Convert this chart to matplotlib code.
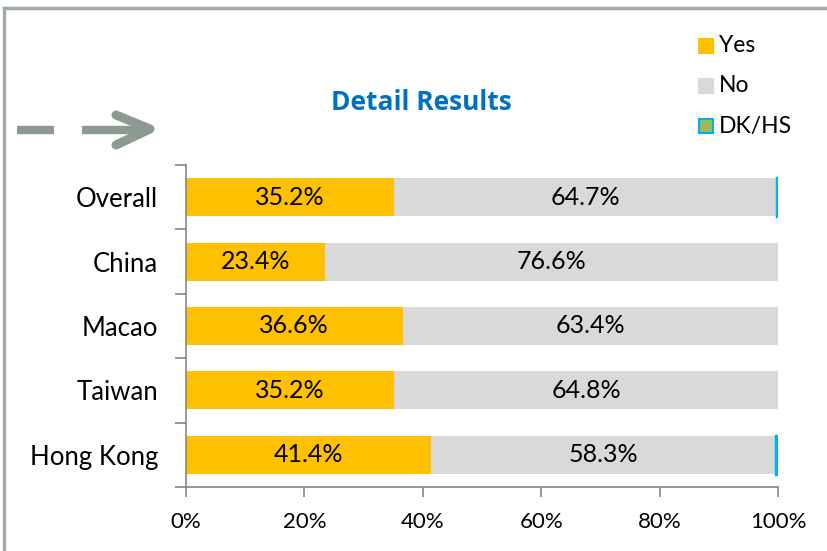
import matplotlib
matplotlib.use("Agg")
import matplotlib.pyplot as plt
from matplotlib.patches import Rectangle
from matplotlib.lines import Line2D
import numpy as np

plt.rcParams['font.family'] = ['Lato', 'DejaVu Sans']

categories = ["Overall", "China", "Macao", "Taiwan", "Hong Kong"]
yes = [35.2, 23.4, 36.6, 35.2, 41.4]
no = [64.7, 76.6, 63.4, 64.8, 58.3]
dk = [0.1, 0.0, 0.0, 0.0, 0.3]
series_names = ["Yes", "No", "DK/HS"]
xticks = [0, 20, 40, 60, 80, 100]

c_yes = "#FFC000"
c_no = "#D9D9D9"
c_dk = "#9BBB59"
c_dk_edge = "#00B0F0"
axis_col = "#868686"

fig = plt.figure(figsize=(8.27, 5.51), dpi=100)
W, H = 827, 551
ax = fig.add_axes([186 / W, 1 - 487 / H, (778 - 186) / W, (487 - 165) / H])

y = np.arange(len(categories))
h = 0.59
ax.barh(y, yes, height=h, color=c_yes, label=series_names[0])
ax.barh(y, no, left=yes, height=h, color=c_no, label=series_names[1])
left2 = np.array(yes) + np.array(no)
for yi, l, d in zip(y, left2, dk):
    if d > 0:
        ax.barh(yi, d, left=l, height=h, color=c_dk, edgecolor=c_dk_edge, linewidth=2.5)

for yi, a, b in zip(y, yes, no):
    ax.text(a / 2, yi, f"{a:.1f}%", ha="center", va="center", fontsize=18, color="black")
    ax.text(a + b / 2, yi, f"{b:.1f}%", ha="center", va="center", fontsize=18, color="black")

ax.set_xlim(0, 100)
ax.set_ylim(len(categories) - 0.5, -0.5)
ax.set_xticks(xticks)
ax.set_xticklabels([f"{t}%" for t in xticks], fontsize=16)
ax.set_yticks(y)
ax.set_yticklabels(categories, fontsize=18.5)
ax.set_yticks(np.arange(-0.5, len(categories), 1), minor=True)
ax.tick_params(axis="y", which="major", length=0, pad=20)
ax.tick_params(axis="y", which="minor", length=8, color=axis_col, width=1.2)
ax.tick_params(axis="x", length=7, color=axis_col, width=1.2, pad=11)
for s in ["top", "right"]:
    ax.spines[s].set_visible(False)
for s in ["left", "bottom"]:
    ax.spines[s].set_color(axis_col)
    ax.spines[s].set_linewidth(1.2)

# title
fig.text(421 / W, 1 - 103 / H, "Detail Results", ha="center", va="center",
         fontsize=19, fontweight="bold", color="#0070C0",
         family=["Open Sans", "DejaVu Sans"])

# legend
leg_items = [(series_names[0], c_yes, c_yes, 46), (series_names[1], c_no, c_no, 86),
             (series_names[2], c_dk, c_dk_edge, 126)]
for name, fc, ec, yy in leg_items:
    fig.patches.append(Rectangle((699 / W, 1 - (yy + 7) / H), 14 / W, 14 / H,
                                 transform=fig.transFigure, facecolor=fc, edgecolor=ec,
                                 linewidth=1.5))
    fig.text(719 / W, 1 - yy / H, name, ha="left", va="center", fontsize=16.5)

# frame
fig.add_artist(Line2D([4 / W, 4 / W], [0, 1 - 8 / H], transform=fig.transFigure,
                      color="#A3ADA8", linewidth=2.5))
fig.add_artist(Line2D([4 / W, 1], [1 - 8 / H, 1 - 8 / H], transform=fig.transFigure,
                      color="#A3ADA8", linewidth=2.5))

# decorative dashes
arrow_col = "#8C9A92"
fig.add_artist(Line2D([17 / W, 54 / W], [1 - 130 / H, 1 - 130 / H], transform=fig.transFigure,
                      color=arrow_col, linewidth=6, solid_capstyle="butt"))
fig.add_artist(Line2D([82 / W, 140 / W], [1 - 130 / H, 1 - 130 / H], transform=fig.transFigure,
                      color=arrow_col, linewidth=6, solid_capstyle="butt"))
fig.add_artist(Line2D([116 / W, 150 / W, 116 / W], [1 - 115 / H, 1 - 129 / H, 1 - 145 / H],
                      transform=fig.transFigure, color=arrow_col, linewidth=6.5,
                      solid_capstyle="round", solid_joinstyle="round"))

fig.savefig("out.png", dpi=100)
